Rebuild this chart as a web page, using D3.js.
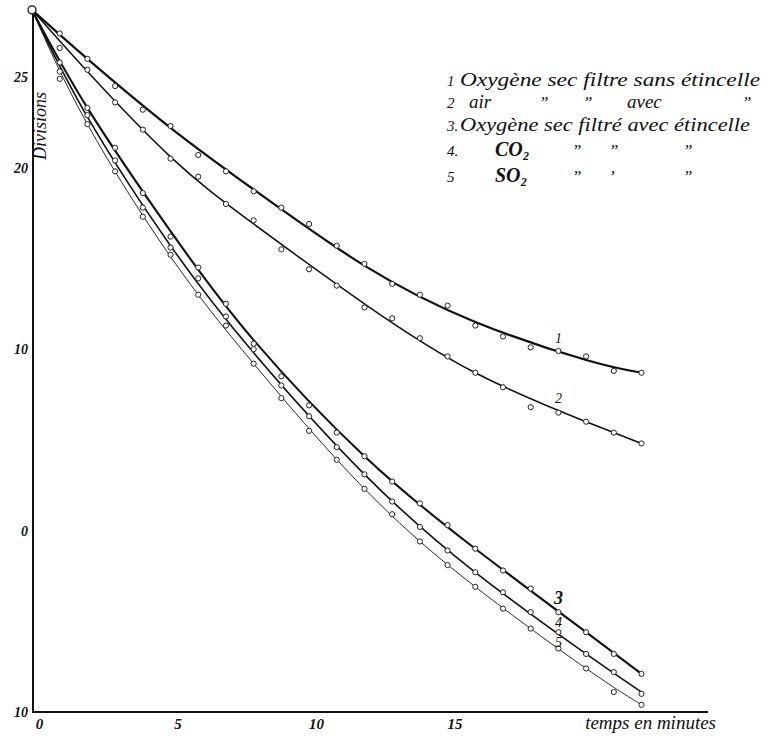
<!DOCTYPE html>
<html lang="fr">
<head>
    <meta charset="utf-8">
    <title>Divisions - temps en minutes</title>
    <style>
        body {
            margin: 0;
            background: #fff;
        }

        .hand {
            font-family: "Liberation Serif", "DejaVu Serif", serif;
            font-style: italic;
            fill: #111;
        }
    </style>
</head>
<body>
<svg class="chart"></svg>
<script src="https://cdn.jsdelivr.net/npm/d3@7"></script>
<script>

  const chartWidth = 776;
  const chartHeight = 740;

  // minutes at which each reading was taken
  const minutes = d3.range(0, 23);

  // readings (divisions) plotted as small circles
  const curve1 = [28.7, 27.4, 26.0, 24.5, 23.2, 22.3, 20.7, 19.8, 18.7, 17.8, 16.9, 15.7,
                  14.7, 13.6, 13.0, 12.4, 11.3, 10.7, 10.1, 9.9, 9.6, 8.8, 8.7];
  const curve2 = [28.7, 26.6, 25.4, 23.6, 22.1, 20.5, 19.5, 18.0, 17.1, 15.5, 14.4, 13.5,
                  12.3, 11.7, 10.6, 9.6, 8.7, 7.9, 6.8, 6.5, 6.0, 5.4, 4.8];
  const curve3 = [28.7, 25.8, 23.3, 21.1, 18.6, 16.2, 14.5, 12.5, 10.3, 8.5, 6.9, 5.4,
                  4.1, 2.7, 1.5, 0.3, -1.0, -2.2, -3.2, -4.5, -5.6, -6.8, -7.9];
  const curve4 = [28.7, 25.3, 22.9, 20.4, 17.8, 15.6, 13.9, 11.8, 10.0, 8.0, 6.3, 4.6,
                  3.1, 1.6, 0.2, -1.1, -2.3, -3.4, -4.5, -5.6, -6.8, -7.8, -9.0];
  const curve5 = [28.7, 24.9, 22.4, 19.8, 17.3, 15.2, 13.0, 11.3, 9.2, 7.3, 5.5, 3.9,
                  2.3, 0.9, -0.6, -1.9, -3.1, -4.3, -5.4, -6.5, -7.6, -8.9, -9.6];

  // the smooth hand-drawn curves, read at a few minutes
  const lineMinutes = [0, 2, 5, 8, 12, 16, 20, 22];
  const line1 = [28.7, 26.0, 22.2, 18.8, 14.6, 11.5, 9.4, 8.7];
  const line2 = [28.7, 25.3, 20.6, 16.9, 12.5, 8.7, 6.0, 4.8];
  const line3 = [28.7, 23.3, 16.5, 10.5, 4.1, -1.0, -5.6, -7.9];
  const line4 = [28.7, 22.8, 15.7, 9.8, 3.1, -2.3, -6.8, -8.9];
  const line5 = [28.7, 22.4, 15.1, 9.2, 2.3, -3.1, -7.6, -9.6];

  const curveNames = ["1", "2", "3", "4", "5"];
  const curveWidths = [2.2, 1.5, 2.1, 1.6, 0.9];

  const yTickValues = [25, 20, 10, 0, -10];
  const yTickLabels = ["25", "20", "10", "0", "10"];
  const xTickValues = [0, 5, 10, 15];

  const legendNumbers = ["1", "2", "3.", "4.", "5"];
  const legendTexts = [
    "Oxygène sec filtre sans étincelle",
    "air",
    "Oxygène sec filtré avec étincelle",
    "CO₂",
    "SO₂"
  ];
  // ditto columns of the legend ("  "  avec  ")
  const legendDittos = [
    [],
    ["\u201D", "\u201D", "avec", "\u201D"],
    [],
    ["\u201D", "\u201D", "\u201D"],
    ["\u201D", "\u2019", "\u201D"]
  ];

  const xScale = d3.scaleLinear()
    .domain([0, 24.4])
    .range([32, 708]);

  const yScale = d3.scaleLinear()
    .domain([-10, 25])
    .range([712, 77]);

  const svg = d3.select(".chart")
    .attr("width", chartWidth)
    .attr("height", chartHeight);

  const lines = [line1, line2, line3, line4, line5];
  const series = [curve1, curve2, curve3, curve4, curve5].map((values, i) => ({
    name: curveNames[i],
    width: curveWidths[i],
    points: minutes.map((m, j) => ({m: m, v: values[j]})),
    line: lineMinutes.map((m, j) => ({m: m, v: lines[i][j]}))
  }));

  // axes: plain strokes, no ticks
  const yAxis = d3.axisLeft(yScale)
    .tickValues(yTickValues)
    .tickFormat((d, i) => yTickLabels[i])
    .tickSize(0)
    .tickPadding(5);

  const yG = svg.append("g")
    .attr("transform", `translate(${xScale(0) + 1},0)`)
    .call(yAxis);
  yG.select(".domain").remove();
  yG.append("line")
    .attr("y1", yScale(28.6))
    .attr("y2", yScale(-10))
    .attr("stroke", "#111")
    .attr("stroke-width", 2);
  yG.selectAll(".tick text")
    .attr("class", "hand")
    .style("font-size", "14px")
    .style("font-weight", "bold");

  const xAxis = d3.axisBottom(xScale)
    .tickValues(xTickValues)
    .tickSize(0)
    .tickPadding(6);

  const xG = svg.append("g")
    .attr("transform", `translate(0,${yScale(-10)})`)
    .call(xAxis);
  xG.select(".domain").remove();
  xG.append("line")
    .attr("x1", xScale(0))
    .attr("x2", xScale(24.4))
    .attr("stroke", "#111")
    .attr("stroke-width", 2);
  xG.selectAll(".tick text")
    .attr("class", "hand")
    .attr("dx", 7)
    .style("font-size", "15px")
    .style("font-weight", "bold");

  svg.append("text")
    .attr("class", "hand")
    .attr("transform", `translate(${xScale(0) + 14},${yScale(22.3)}) rotate(-90)`)
    .attr("text-anchor", "middle")
    .style("font-size", "18px")
    .text("Divisions");

  svg.append("text")
    .attr("class", "hand")
    .attr("x", xScale(24.4) + 8)
    .attr("y", yScale(-10) + 17)
    .attr("text-anchor", "end")
    .style("font-size", "19px")
    .text("temps en minutes");

  // curves
  const line = d3.line()
    .x(d => xScale(d.m))
    .y(d => yScale(d.v))
    .curve(d3.curveNatural);

  svg.selectAll("path.curve")
    .data(series)
    .enter()
    .append("path")
    .attr("class", "curve")
    .attr("d", d => line(d.line))
    .attr("fill", "none")
    .attr("stroke", "#111")
    .attr("stroke-width", d => d.width);

  svg.selectAll("g.marks")
    .data(series)
    .enter()
    .append("g")
    .attr("class", "marks")
    .selectAll("circle")
    .data(d => d.points.slice(1))
    .enter()
    .append("circle")
    .attr("cx", d => xScale(d.m))
    .attr("cy", d => yScale(d.v))
    .attr("r", 2.6)
    .attr("fill", "#fff")
    .attr("stroke", "#222")
    .attr("stroke-width", 1);

  // common starting point
  svg.append("circle")
    .attr("cx", xScale(0))
    .attr("cy", yScale(curve1[0]))
    .attr("r", 4)
    .attr("fill", "#fff")
    .attr("stroke", "#111")
    .attr("stroke-width", 1.3);

  // curve numbers written along the lines
  const labelMinute = 19;
  const labelOffsets = [-8, -10, -8, -5, -2];
  svg.selectAll("text.curveLabel")
    .data(series)
    .enter()
    .append("text")
    .attr("class", "hand curveLabel")
    .attr("x", xScale(labelMinute))
    .attr("y", (d, i) => yScale(d.points[labelMinute].v) + labelOffsets[i])
    .attr("text-anchor", "middle")
    .style("font-size", (d, i) => i == 2 ? "18px" : "14px")
    .style("font-weight", (d, i) => i == 2 ? "bold" : "normal")
    .text(d => d.name);

  // legend
  const legend = svg.append("g")
    .attr("transform", "translate(447,0)");
  const legendY = [86, 108, 131, 156, 182];
  const legendLength = [300, null, 290, null, null];

  legendNumbers.forEach((num, i) => {
    legend.append("text")
      .attr("class", "hand")
      .attr("x", 0)
      .attr("y", legendY[i])
      .style("font-size", "15px")
      .text(num);

    const indent = (i == 1) ? 22 : (i >= 3 ? 48 : 13);
    const t = legend.append("text")
      .attr("class", "hand")
      .attr("x", indent)
      .attr("y", legendY[i])
      .style("font-size", i >= 3 ? "20px" : "19px")
      .style("font-weight", i >= 3 ? "bold" : "normal")
      .text(legendTexts[i]);
    if (legendLength[i]) {
      t.attr("textLength", legendLength[i])
        .attr("lengthAdjust", "spacingAndGlyphs");
    }

    const dittoX = i == 1 ? [92, 136, 180, 295] : [125, 162, 236];
    legendDittos[i].forEach((s, k) => {
      legend.append("text")
        .attr("class", "hand")
        .attr("x", dittoX[k])
        .attr("y", legendY[i])
        .style("font-size", s == "avec" ? "19px" : "17px")
        .text(s);
    });
  });

</script>
</body>
</html>
